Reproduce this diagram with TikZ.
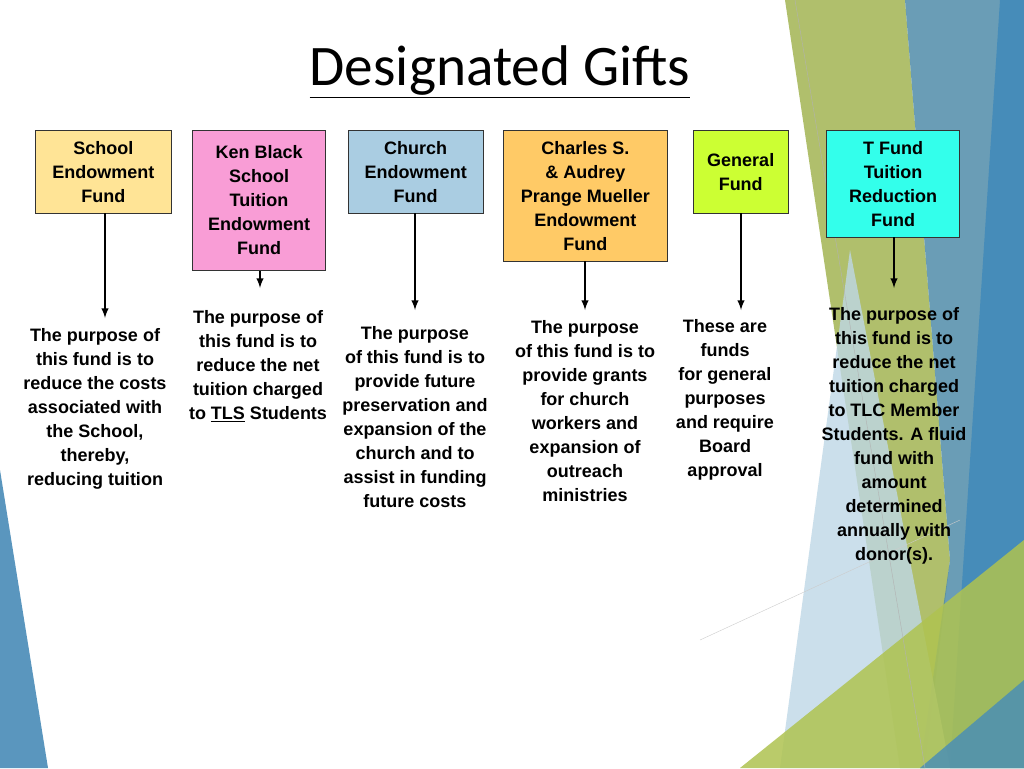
\documentclass[tikz,border=0pt]{standalone}
\usepackage{fontspec}
\setmainfont{Liberation Sans}
\newfontfamily\titlefont{Carlito}
\begin{document}
\begin{tikzpicture}[x=0.75pt,y=-0.75pt,
 fund/.style={draw=black!80,line width=0.6pt,align=center,font=\bfseries\fontsize{13.5}{18}\selectfont,inner sep=0pt,anchor=north west},
 desc/.style={align=center,font=\bfseries\fontsize{13.5}{18}\selectfont,anchor=north,inner sep=0pt},
 arr/.style={-latex,line width=1.5pt}]
\useasboundingbox (0,0) rectangle (1024,768);
\fill[white] (0,0) rectangle (1024,768);
% background decoration
\fill[color={rgb,255:red,150;green,170;blue,60},opacity=0.75] (785,0) -- (905,0) -- (950,560) -- (925,768) -- (900,768) -- cycle;
\fill[color={rgb,255:red,80;green,140;blue,170},opacity=0.85] (905,0) -- (1024,0) -- (1024,768) -- (920,768) -- (950,560) -- cycle;
\fill[color={rgb,255:red,70;green,140;blue,185}] (1000,0) -- (1024,0) -- (1024,768) -- (950,768) -- cycle;
\fill[color={rgb,255:red,190;green,215;blue,230},opacity=0.8] (850,250) -- (950,768) -- (780,768) -- cycle;
\fill[color={rgb,255:red,175;green,195;blue,80},opacity=0.85] (740,768) -- (1024,540) -- (1024,768) -- cycle;
\fill[color={rgb,255:red,70;green,140;blue,185},opacity=0.8] (920,768) -- (1024,680) -- (1024,768) -- cycle;
\fill[color={rgb,255:red,90;green,150;blue,190}] (0,470) -- (48,768) -- (0,768) -- cycle;
\draw[gray!60,line width=0.3pt] (795,0) -- (925,768);
\draw[gray!40,line width=0.3pt] (700,640) -- (960,520);
% title
\node[font=\titlefont\fontsize{43}{50}\selectfont] (title) at (500,72) {\underline{Designated Gifts}};
% boxes
\node[fund,fill={rgb,255:red,255;green,228;blue,150},minimum width=102pt,minimum height=62pt] (b1) at (35,130) {School\\Endowment\\Fund};
\node[fund,fill={rgb,255:red,249;green,157;blue,214},minimum width=100pt,minimum height=105pt] (b2) at (192,130) {Ken Black\\School\\Tuition\\Endowment\\Fund};
\node[fund,fill={rgb,255:red,170;green,205;blue,226},minimum width=101pt,minimum height=62pt] (b3) at (348,130) {Church\\Endowment\\Fund};
\node[fund,fill={rgb,255:red,255;green,202;blue,102},minimum width=123pt,minimum height=98pt] (b4) at (503,130) {Charles S.\\\& Audrey\\Prange Mueller\\Endowment\\Fund};
\node[fund,fill={rgb,255:red,204;green,255;blue,51},minimum width=71pt,minimum height=62pt] (b5) at (693,130) {General\\Fund};
\node[fund,fill={rgb,255:red,51;green,255;blue,235},minimum width=100pt,minimum height=80pt] (b6) at (826,130) {T Fund\\Tuition\\Reduction\\Fund};
% descriptions
\node[desc] (d1) at (95,328) {The purpose of\\this fund is to\\reduce the costs\\associated with\\the School,\\thereby,\\reducing tuition};
\node[desc] (d2) at (258,310) {The purpose of\\this fund is to\\reduce the net\\tuition charged\\to \underline{TLS} Students};
\node[desc] (d3) at (415,326) {The purpose\\of this fund is to\\provide future\\preservation and\\expansion of the\\church and to\\assist in funding\\future costs};
\node[desc] (d4) at (585,320) {The purpose\\of this fund is to\\provide grants\\for church\\workers and\\expansion of\\outreach\\ministries};
\node[desc] (d5) at (725,319) {These are\\funds\\for general\\purposes\\and require\\Board\\approval};
\node[desc] (d6) at (894,307) {The purpose of\\this fund is to\\reduce the net\\tuition charged\\to TLC Member\\Students. A fluid\\fund with\\amount\\determined\\annually with\\donor(s).};
% arrows
\coordinate (e1) at (105,318); \coordinate (e2) at (260,288); \coordinate (e3) at (415,310);
\coordinate (e4) at (585,310); \coordinate (e5) at (741,310); \coordinate (e6) at (894,288);
\draw[arr] (b1.south -| e1) -- (e1);
\draw[arr] (b2.south -| e2) -- (e2);
\draw[arr] (b3.south -| e3) -- (e3);
\draw[arr] (b4.south -| e4) -- (e4);
\draw[arr] (b5.south -| e5) -- (e5);
\draw[arr] (b6.south -| e6) -- (e6);
\end{tikzpicture}
\end{document}
